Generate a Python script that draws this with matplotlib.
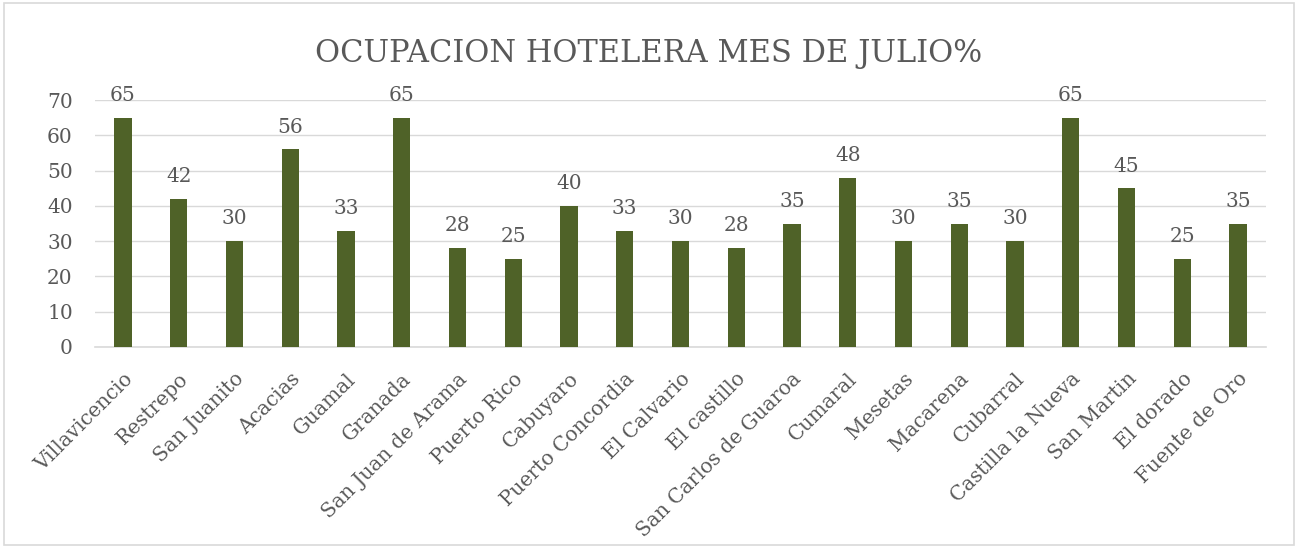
import matplotlib
matplotlib.use('Agg')
import matplotlib.pyplot as plt
from matplotlib.patches import Rectangle

municipios = ['Villavicencio', 'Restrepo', 'San Juanito', 'Acacias', 'Guamal', 'Granada',
              'San Juan de Arama', 'Puerto Rico', 'Cabuyaro', 'Puerto Concordia', 'El Calvario',
              'El castillo', 'San Carlos de Guaroa', 'Cumaral', 'Mesetas', 'Macarena', 'Cubarral',
              'Castilla la Nueva', 'San Martin', 'El dorado', 'Fuente de Oro']
ocupacion = [65, 42, 30, 56, 33, 65, 28, 25, 40, 33, 30, 28, 35, 48, 30, 35, 30, 65, 45, 25, 35]
yticks = [0, 10, 20, 30, 40, 50, 60, 70]

txt = '#595959'
plt.rcParams['font.family'] = ['DejaVu Serif']

fig = plt.figure(figsize=(12.98, 5.48), dpi=100)
fig.patches.append(Rectangle((0.003, 0.005), 0.994, 0.99, transform=fig.transFigure,
                             fill=False, edgecolor='#D9D9D9', linewidth=1.2))
ax = fig.add_axes([0.0732, 0.3668, 0.9021, 0.4507])

x = range(len(municipios))
bars = ax.bar(x, ocupacion, width=0.31, color='#4F6228', zorder=3)
for xi, v in zip(x, ocupacion):
    ax.text(xi, v + 3.6, str(v), ha='center', va='bottom', fontsize=14.5, color=txt)

ax.set_xlim(-0.5, len(municipios) - 0.5)
ax.set_ylim(0, 70)
ax.set_yticks(yticks)
ax.set_yticklabels([str(t) for t in yticks], fontsize=14.5, color=txt)
ax.set_xticks(list(x))
ax.set_xticklabels(municipios, rotation=45, ha='right', rotation_mode='anchor',
                   fontsize=14.5, color=txt)
ax.tick_params(axis='y', length=0, pad=16)
ax.tick_params(axis='x', length=0, pad=16)
ax.grid(axis='y', color='#D9D9D9', linewidth=1, zorder=0)
for s in ['top', 'right', 'left']:
    ax.spines[s].set_visible(False)
ax.spines['bottom'].set_color('#D9D9D9')
ax.spines['bottom'].set_linewidth(1.2)

fig.text(0.5, 0.903, 'OCUPACION HOTELERA MES DE JULIO%', ha='center', va='center',
         fontsize=22, color=txt)

fig.savefig('out.png', dpi=100)
